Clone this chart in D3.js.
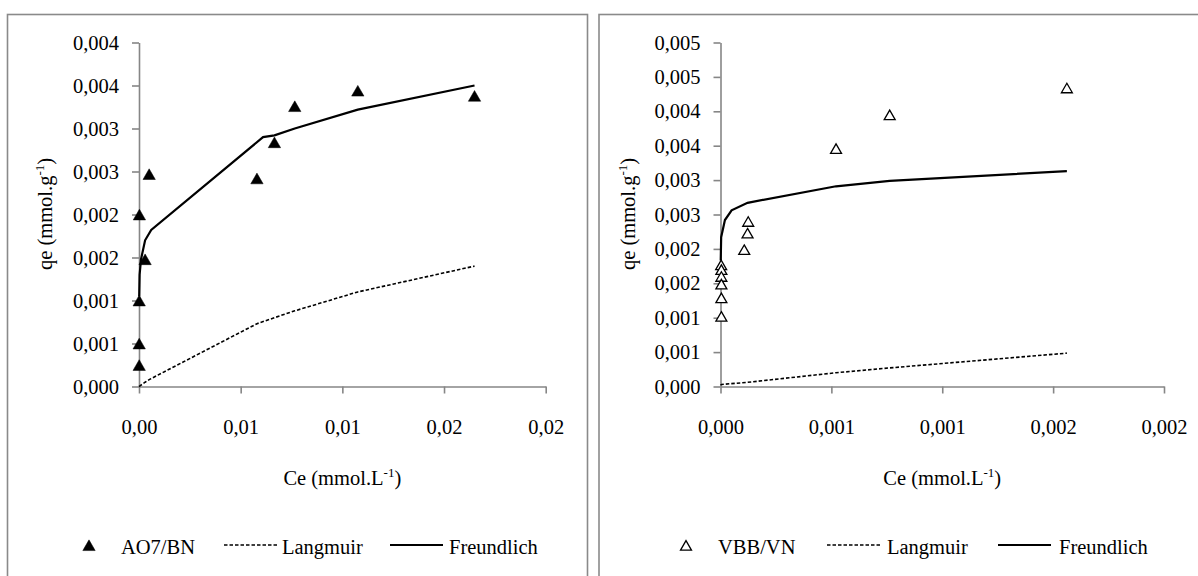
<!DOCTYPE html>
<html><head><meta charset="utf-8">
<script src="https://cdn.jsdelivr.net/npm/d3@7"></script>
<style>
body{margin:0;background:#fff;}
svg{display:block;}
</style></head>
<body><svg id="c" width="1198" height="576" font-family="Liberation Serif"></svg>
<script>
// ---- Panel A: AO7/BN ----
const aCe = [0.00001, 0.00001, 0.00001, 0.00002, 0.0003, 0.0005, 0.0058, 0.00666, 0.00766, 0.01076, 0.0165];
const aQe = [0.00024, 0.00049, 0.00099, 0.00199, 0.00147, 0.00246, 0.00241, 0.00283, 0.00325, 0.00343, 0.00337];
const aLangCe = [0, 0.00003, 0.0003, 0.0005, 0.0058, 0.00666, 0.00766, 0.01076, 0.0165];
const aLangQe = [0, 0.000005, 0.00005, 0.00008, 0.00073, 0.0008, 0.00088, 0.0011, 0.0014];
const aFreCe = [0.00001, 0.00003, 0.0001, 0.0003, 0.0006, 0.0061, 0.00666, 0.00766, 0.01076, 0.0165];
const aFreQe = [0.00105, 0.0013, 0.00148, 0.0017, 0.00182, 0.0029, 0.00292, 0.003, 0.00322, 0.0035];
const aXTicks = [0, 0.005, 0.01, 0.015, 0.02];
const aXLabels = ["0,00", "0,01", "0,01", "0,02", "0,02"];
const aYTicks = [0, 0.0005, 0.001, 0.0015, 0.002, 0.0025, 0.003, 0.0035, 0.004];
const aYLabels = ["0,000", "0,001", "0,001", "0,002", "0,002", "0,003", "0,003", "0,004", "0,004"];

// ---- Panel B: VBB/VN ----
const bCe = [0.000003, 0.000004, 0.000004, 0.000004, 0.000004, 0.000004, 0.000107, 0.000122, 0.000125, 0.000521, 0.000763, 0.001562];
const bQe = [0.00176, 0.00169, 0.00159, 0.00148, 0.00128, 0.00101, 0.00198, 0.00222, 0.00239, 0.00345, 0.00394, 0.00433];
const bLangCe = [0, 0.000005, 0.00012, 0.000521, 0.000763, 0.001562];
const bLangQe = [0.00002, 0.00003, 0.00006, 0.0002, 0.00027, 0.000485];
const bFreCe = [0.000001, 0.000003, 0.00002, 0.00005, 0.000122, 0.000521, 0.000763, 0.001562];
const bFreQe = [0.00183, 0.00217, 0.00242, 0.00256, 0.00267, 0.00291, 0.00299, 0.00313];
const bXTicks = [0, 0.0005, 0.001, 0.0015, 0.002];
const bXLabels = ["0,000", "0,001", "0,001", "0,002", "0,002"];
const bYTicks = [0, 0.0005, 0.001, 0.0015, 0.002, 0.0025, 0.003, 0.0035, 0.004, 0.0045, 0.005];
const bYLabels = ["0,000", "0,001", "0,001", "0,002", "0,002", "0,003", "0,003", "0,004", "0,004", "0,005", "0,005"];

const svg = d3.select("#c");
const FS = 20.5;
const FF = "Liberation Serif";
const AX = "#868686";

function panel(o){
  svg.append("rect").attr("x", o.fx).attr("y", 14.5).attr("width", o.fw).attr("height", 600)
    .attr("fill", "none").attr("stroke", "#8a8a8a").attr("stroke-width", 1.6);
  const x = d3.scaleLinear().domain([0, o.xmax]).range([o.x0, o.x1]);
  const y = d3.scaleLinear().domain([0, o.ymax]).range([386.5, 42.5]);

  const gx = svg.append("g").attr("transform", `translate(0,${y(0)})`)
    .call(d3.axisBottom(x).tickValues(o.xt).tickFormat((d,i)=>o.xl[i]).tickSize(7).tickSizeOuter(0));
  const gy = svg.append("g").attr("transform", `translate(${x(0)},0)`)
    .call(d3.axisLeft(y).tickValues(o.yt).tickFormat((d,i)=>o.yl[i]).tickSize(7).tickSizeOuter(0).tickPadding(13));
  [gx, gy].forEach(g=>{
    g.attr("font-family", FF).attr("font-size", FS);
    g.select(".domain").attr("stroke", AX).attr("stroke-width", 1.6);
    g.selectAll(".tick line").attr("stroke", AX).attr("stroke-width", 1.6);
    g.selectAll(".tick text").attr("fill", "#000");
  });
  gx.selectAll(".tick text").attr("dy", "0.35em").attr("y", 40);

  const line = d3.line().x(d=>x(d[0])).y(d=>y(d[1]));
  svg.append("path").datum(d3.zip(o.lCe, o.lQe)).attr("d", line)
    .attr("fill", "none").attr("stroke", "#000").attr("stroke-width", 1.6).attr("stroke-dasharray", "3.5,2");
  svg.append("path").datum(d3.zip(o.fCe, o.fQe)).attr("d", line)
    .attr("fill", "none").attr("stroke", "#000").attr("stroke-width", 2.2);

  const tri = d3.symbol().type(d3.symbolTriangle).size(o.filled ? 66 : 52);
  svg.append("g").selectAll("path").data(d3.zip(o.ce, o.qe)).join("path")
    .attr("d", tri).attr("transform", d=>`translate(${x(d[0])},${y(d[1])+1})`)
    .attr("fill", o.filled ? "#000" : "#fff").attr("stroke", "#000").attr("stroke-width", o.filled ? 0.5 : 1.3);

  const xt = svg.append("text").attr("x", (o.x0+o.x1)/2).attr("y", 485).attr("text-anchor", "middle")
    .attr("font-size", FS).attr("font-family", FF);
  xt.append("tspan").text("Ce (mmol.L");
  xt.append("tspan").text("-1").attr("font-size", 13).attr("dy", -8);
  xt.append("tspan").text(")").attr("dy", 8);
  const yt = svg.append("text").attr("transform", `translate(${o.ytx},214) rotate(-90)`).attr("text-anchor", "middle")
    .attr("font-size", FS).attr("font-family", FF);
  yt.append("tspan").text("qe (mmol.g");
  yt.append("tspan").text("-1").attr("font-size", 13).attr("dy", -8);
  yt.append("tspan").text(")").attr("dy", 8);

  const ly = 547;
  svg.append("path").attr("d", d3.symbol().type(d3.symbolTriangle).size(o.filled ? 66 : 52))
    .attr("transform", `translate(${o.lg[0]},${ly})`)
    .attr("fill", o.filled ? "#000" : "#fff").attr("stroke", "#000").attr("stroke-width", o.filled ? 0.5 : 1.3);
  svg.append("text").attr("x", o.lg[1]).attr("y", ly+7).attr("font-size", FS).attr("font-family", FF).text(o.name);
  svg.append("line").attr("x1", o.lg[2]).attr("x2", o.lg[2]+53).attr("y1", ly-2).attr("y2", ly-2)
    .attr("stroke", "#000").attr("stroke-width", 1.6).attr("stroke-dasharray", "3.5,2");
  svg.append("text").attr("x", o.lg[3]).attr("y", ly+7).attr("font-size", FS).attr("font-family", FF).text("Langmuir");
  svg.append("line").attr("x1", o.lg[4]).attr("x2", o.lg[4]+53).attr("y1", ly-2).attr("y2", ly-2)
    .attr("stroke", "#000").attr("stroke-width", 2.2);
  svg.append("text").attr("x", o.lg[5]).attr("y", ly+7).attr("font-size", FS).attr("font-family", FF).text("Freundlich");
}

panel({fx:7.5, fw:580, x0:139, x1:545.7, xmax:0.02, ymax:0.004, xt:aXTicks, xl:aXLabels, yt:aYTicks, yl:aYLabels,
  ce:aCe, qe:aQe, lCe:aLangCe, lQe:aLangQe, fCe:aFreCe, fQe:aFreQe, filled:true, name:"AO7/BN",
  ytx:52, lg:[89, 121, 224, 282, 390, 449]});
panel({fx:599, fw:620, x0:720.5, x1:1164, xmax:0.002, ymax:0.005, xt:bXTicks, xl:bXLabels, yt:bYTicks, yl:bYLabels,
  ce:bCe, qe:bQe, lCe:bLangCe, lQe:bLangQe, fCe:bFreCe, fQe:bFreQe, filled:false, name:"VBB/VN",
  ytx:635, lg:[686, 718, 827, 887, 998, 1059]});
</script></body></html>
